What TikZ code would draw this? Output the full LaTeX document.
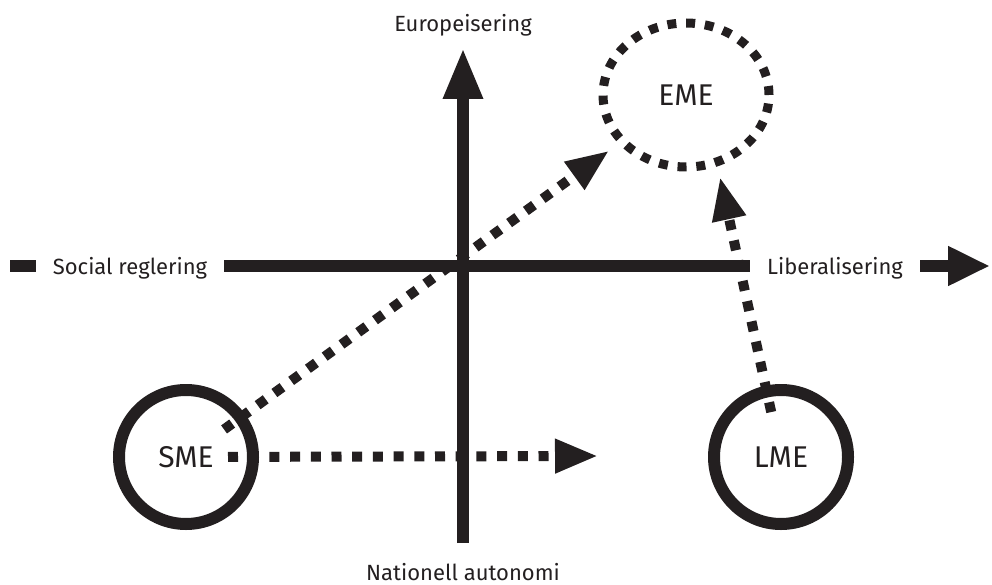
\documentclass[tikz,border=0pt]{standalone}
\usepackage{fontspec}
\setmainfont{Fira Sans}
\usetikzlibrary{positioning}
\usetikzlibrary{shapes,arrows.meta}
\definecolor{ink}{RGB}{35,31,32}
\tikzstyle{axis} = [draw=ink, line width=12pt]
\tikzstyle{axislabel} = [font=\fontsize{22}{26}\selectfont, text=ink, inner sep=0pt]
\tikzstyle{cut} = [axislabel, fill=white, inner xsep=17pt, inner ysep=8pt]
\tikzstyle{market} = [circle, draw=ink, line width=12pt, minimum size=134pt,
                        text=ink, font=\fontsize{30}{36}\selectfont]
\tikzstyle{goal} = [ellipse, draw=ink, line width=9pt, dash pattern=on 9pt off 9.8pt,
                        minimum width=166pt, minimum height=144pt,
                        text=ink, font=\fontsize{30}{36}\selectfont]
\tikzstyle{line} = [draw=ink, line width=10pt, dash pattern=on 10pt off 10.7pt,
                        -{Triangle[length=43pt,width=32pt]}]

\begin{document}
\begin{tikzpicture}[x=1pt, y=-1pt]
        \useasboundingbox (0,0) rectangle (992,585);
        \node[market](SME) at (186,457){SME};
        \node[market](LME) at (781,457){LME};
        \node[goal](EME) at (686,95){EME};
        \coordinate (mid) at (598,456);
        \coordinate (up) at (720,177);
        \path[line, shorten <=47pt, shorten >=95pt] (SME.center) -- (EME.center);
        \path[line, shorten <=42pt] (SME.center) -- (mid);
        \path[line, shorten <=46pt] (LME.center) -- (up);
        % axes
        \coordinate (west) at (10,266);
        \coordinate (east) at (990,266);
        \coordinate (south) at (463,543);
        \coordinate (north) at (463,48);
        \path[axis, -{Triangle[length=42pt,width=37pt]}] (west) -- (east);
        \path[axis, -{Triangle[length=51pt,width=37pt]}] (south) -- (north);
        \node[cut, anchor=base](soc) at (130,274){Social reglering};
        \node[cut, anchor=base](lib) at (835,274){Liberalisering};
        \node[axislabel, anchor=base](eur) at (463,32){Europeisering};
        \node[axislabel, anchor=base](nat) at (463,580){Nationell autonomi};
\end{tikzpicture}
\end{document}
